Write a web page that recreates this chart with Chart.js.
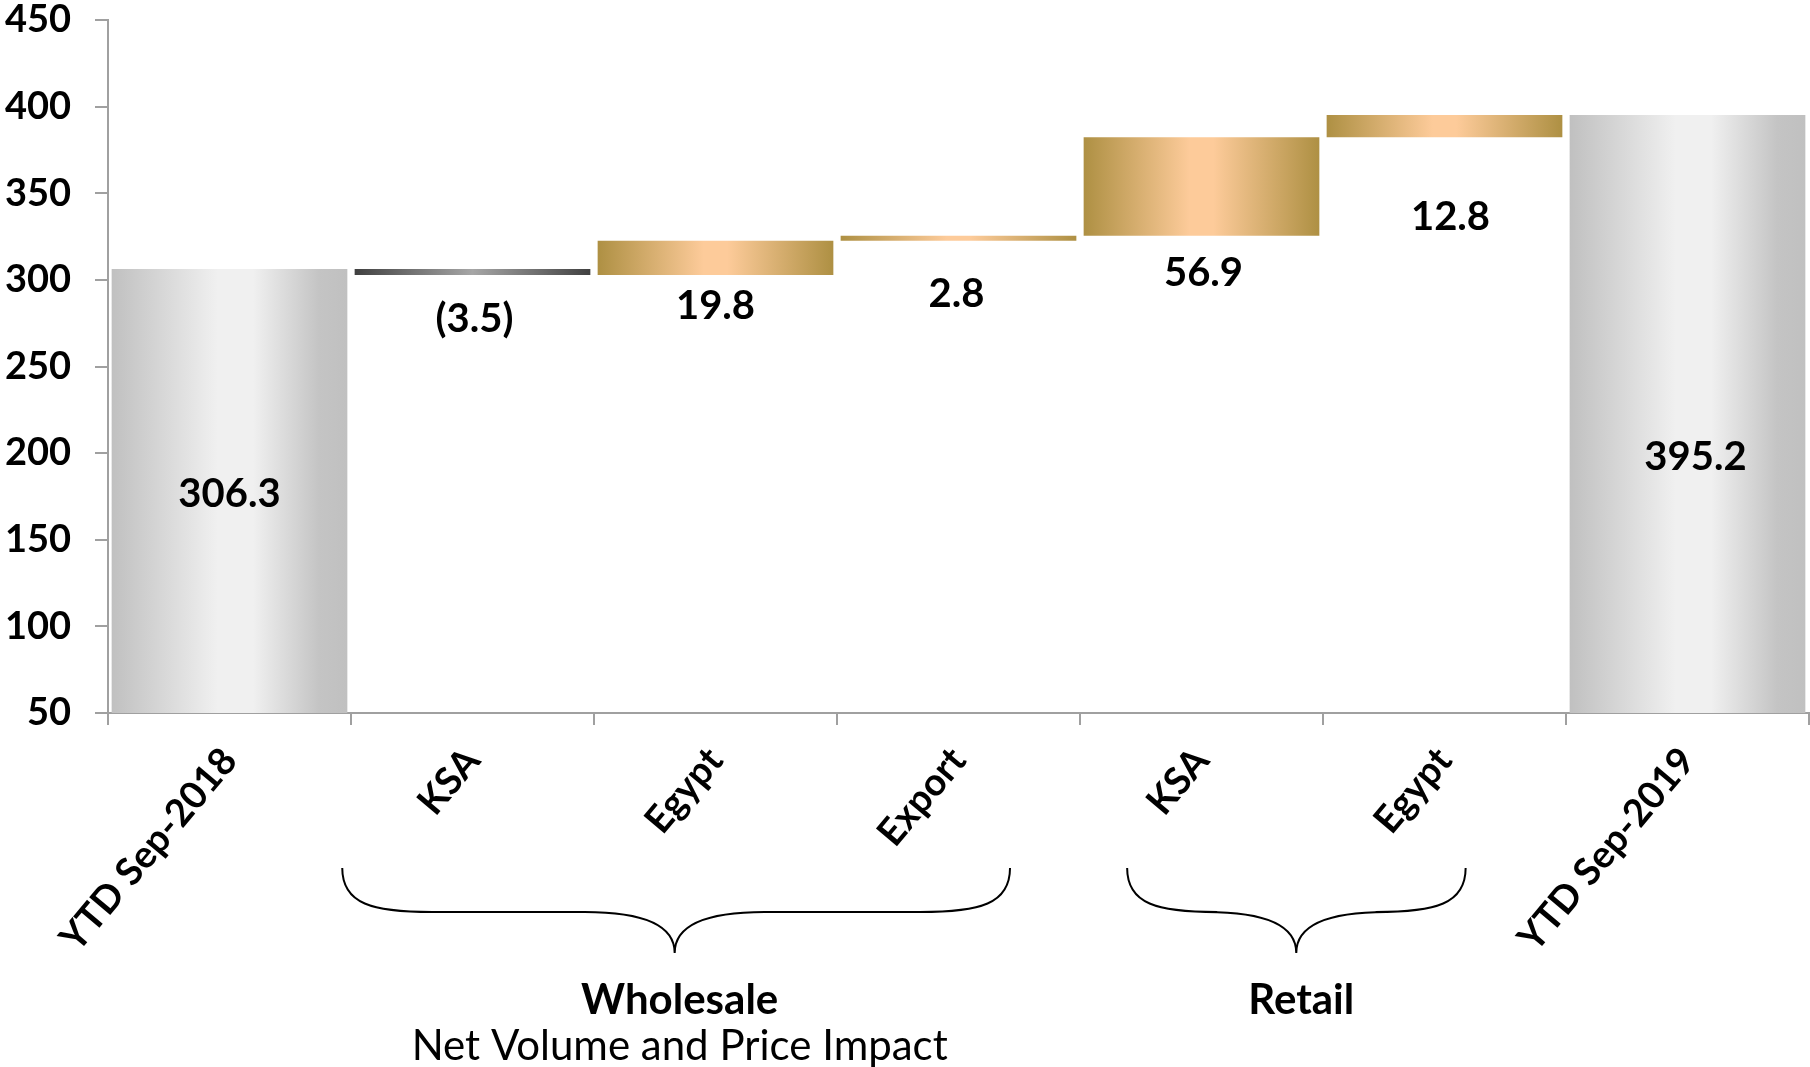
<!DOCTYPE html>
<html>
<head>
<meta charset="utf-8">
<script src="https://cdn.jsdelivr.net/npm/chart.js@4.4.0/dist/chart.umd.min.js"></script>
<style>
  html, body { margin: 0; padding: 0; background: #fff; }
  #wrap { width: 1810px; height: 1067px; }
</style>
</head>
<body>
<div id="wrap"><canvas id="waterfall"></canvas></div>
<script>
const categories = ['YTD Sep-2018', 'KSA', 'Egypt', 'Export', 'KSA', 'Egypt', 'YTD Sep-2019'];
const startTotal = 306.3;
const changes = [-3.5, 19.8, 2.8, 56.9, 12.8];
const endTotal = 395.2;
const yTicks = [50, 100, 150, 200, 250, 300, 350, 400, 450];
const groupNames = ['Wholesale', 'Retail'];
const groupSub = ['Net Volume and Price Impact', ''];

const FONT = 'Lato, "DejaVu Sans", sans-serif';

// build the floating bars from the values
const yMin = yTicks[0];
const bars = [[yMin, startTotal]];
const shown = [startTotal];
let run = startTotal;
changes.forEach(c => {
  bars.push([run, run + c]);
  shown.push(c);
  run += c;
});
bars.push([yMin, endTotal]);
shown.push(endTotal);
const kinds = bars.map((b, i) => (i === 0 || i === bars.length - 1) ? 'total' : (shown[i] < 0 ? 'down' : 'up'));

const stops = {
  total: [[0, '#c0c0c0'], [0.45, '#f0f0f0'], [0.6, '#f0f0f0'], [0.88, '#c4c4c4'], [1, '#c0c0c0']],
  up: [[0, '#ae9043'], [0.45, '#fdcb9a'], [0.55, '#fdcb9a'], [1, '#ae9043']],
  down: [[0, '#404040'], [0.5, '#a6a6a6'], [1, '#404040']]
};

function barFill(ctx) {
  const chart = ctx.chart;
  const xs = chart.scales.x;
  if (!xs || !chart.chartArea) return '#ccc';
  const i = ctx.dataIndex;
  const cx = xs.getPixelForValue(i);
  const w = xs.width / categories.length * 0.97;
  const g = chart.ctx.createLinearGradient(cx - w / 2, 0, cx + w / 2, 0);
  stops[kinds[i]].forEach(s => g.addColorStop(s[0], s[1]));
  return g;
}

function fmt(v) {
  return v < 0 ? '(' + Math.abs(v).toFixed(1) + ')' : v.toFixed(1);
}

// px below the bar for change labels, shift from bar middle for totals
const labelShift = [3, 44, 31, 53, 37, 80, 43];
const labelNudgeX = [0, 2, 0, -2, 2, 6, 8];

const valueLabels = {
  id: 'valueLabels',
  afterDatasetsDraw(chart) {
    const ctx = chart.ctx;
    const meta = chart.getDatasetMeta(0);
    ctx.save();
    ctx.font = 'bold 40px ' + FONT;
    ctx.fillStyle = '#000';
    ctx.textAlign = 'center';
    ctx.textBaseline = 'middle';
    meta.data.forEach((el, i) => {
      const top = Math.min(el.y, el.base);
      const bottom = Math.max(el.y, el.base);
      let y;
      if (kinds[i] === 'total') y = (top + bottom) / 2 + labelShift[i];
      else y = bottom + labelShift[i];
      ctx.fillText(fmt(shown[i]), el.x + labelNudgeX[i], y);
    });
    ctx.restore();
  }
};

// braces: start / end / tip as fractional category positions
const braceSpan = [[0.464, 3.212, 1.832], [3.694, 5.087, 4.39]];

const groupBraces = {
  id: 'groupBraces',
  afterDraw(chart) {
    const ctx = chart.ctx;
    const xs = chart.scales.x;
    const yt = 868, yf = 912, yb = 953;
    ctx.save();
    ctx.strokeStyle = '#000';
    ctx.lineWidth = 2;
    braceSpan.forEach((s, k) => {
      const x1 = xs.getPixelForValue(s[0]);
      const x2 = xs.getPixelForValue(s[1]);
      const xm = xs.getPixelForValue(s[2]);
      ctx.beginPath();
      ctx.moveTo(x1, yt);
      ctx.bezierCurveTo(x1, yf - 8, x1 + 30, yf, x1 + 90, yf);
      ctx.lineTo(xm - 90, yf);
      ctx.bezierCurveTo(xm - 30, yf, xm, yf + 14, xm, yb);
      ctx.moveTo(x2, yt);
      ctx.bezierCurveTo(x2, yf - 8, x2 - 30, yf, x2 - 90, yf);
      ctx.lineTo(xm + 90, yf);
      ctx.bezierCurveTo(xm + 30, yf, xm, yf + 14, xm, yb);
      ctx.stroke();

      ctx.fillStyle = '#000';
      ctx.textAlign = 'center';
      ctx.textBaseline = 'middle';
      const tx = xm + 5;
      ctx.font = 'bold 42px ' + FONT;
      ctx.fillText(groupNames[k], tx, 1000);
      if (groupSub[k]) {
        ctx.font = '42px ' + FONT;
        ctx.fillText(groupSub[k], tx, 1046);
      }
    });
    ctx.restore();
  }
};

new Chart(document.getElementById('waterfall'), {
  type: 'bar',
  data: {
    labels: categories,
    datasets: [{
      data: bars,
      backgroundColor: barFill,
      borderWidth: 0,
      barPercentage: 0.97,
      categoryPercentage: 1
    }]
  },
  options: {
    responsive: true,
    maintainAspectRatio: false,
    animation: false,
    layout: { padding: { left: 4, right: 1, top: 20, bottom: 0 } },
    plugins: {
      legend: { display: false },
      tooltip: { enabled: false }
    },
    scales: {
      x: {
        grid: { drawOnChartArea: false, drawTicks: true, tickLength: 12, color: '#a0a0a0', lineWidth: 2 },
        border: { color: '#a0a0a0', width: 2 },
        ticks: {
          autoSkip: false, maxRotation: 50, minRotation: 50,
          color: '#000', padding: 14,
          font: { family: FONT, size: 38, weight: 'bold' }
        },
        afterFit(scale) {
          scale.height = 354;
          scale.paddingTop = 0;
          scale.paddingBottom = 0;
        }
      },
      y: {
        min: yTicks[0],
        max: yTicks[yTicks.length - 1],
        afterBuildTicks(scale) { scale.ticks = yTicks.map(v => ({ value: v })); },
        grid: { drawOnChartArea: false, drawTicks: true, tickLength: 13, color: '#a0a0a0', lineWidth: 2 },
        border: { color: '#a0a0a0', width: 2 },
        ticks: {
          color: '#000', padding: 24,
          font: { family: FONT, size: 38, weight: 'bold', lineHeight: 1 }
        },
        afterFit(scale) {
          scale.width = 104;
          scale.paddingTop = 0;
          scale.paddingBottom = 0;
        }
      }
    }
  },
  plugins: [valueLabels, groupBraces]
});
</script>
</body>
</html>
